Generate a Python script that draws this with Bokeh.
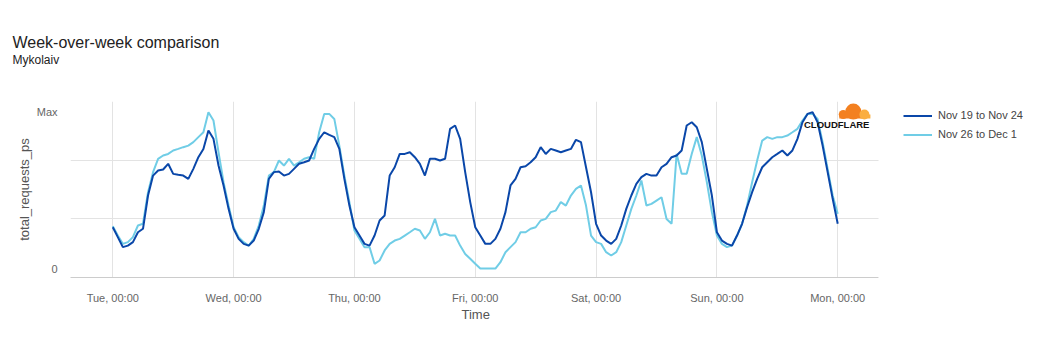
from bokeh.plotting import figure
from bokeh.models import (Range1d, FixedTicker, Legend, LegendItem, Label,
                          Title, BoxAnnotation)
from bokeh.embed import file_html
from bokeh.resources import INLINE

# hours since Tue 00:00
hours = list(range(145))

# Nov 19 to Nov 24 (relative to Max = 100)
week1 = [
    26.3, 20.0, 13.6, 14.6, 16.8, 23.1, 25.3, 46.5, 59.2, 62.4, 63.1, 66.7, 60.3, 59.7, 59.2, 57.1, 63.5, 70.9, 76.2, 87.9, 82.6, 65.6, 52.9, 38.0,
    25.3, 18.9, 15.7, 14.6, 17.8, 25.3, 35.9, 57.1, 61.4, 61.8, 59.2, 60.3, 63.5, 66.7, 67.7, 68.8, 76.2, 82.6, 86.8, 85.1, 83.7, 76.2, 57.1, 40.1,
    26.3, 21.0, 15.7, 14.6, 21.0, 30.6, 33.8, 59.2, 64.5, 73.0, 73.0, 74.1, 70.9, 66.7, 59.2, 69.9, 69.9, 68.8, 69.9, 89.0, 91.1, 82.6, 61.4, 42.3,
    26.3, 21.0, 15.7, 15.7, 18.9, 25.3, 35.9, 52.9, 57.1, 64.5, 65.2, 67.7, 70.9, 77.3, 73.0, 76.2, 75.2, 74.1, 75.2, 76.2, 82.0, 80.5, 64.5, 48.6,
    28.5, 21.0, 17.8, 15.7, 18.9, 27.4, 38.0, 46.5, 53.9, 58.2, 60.3, 59.2, 59.2, 64.5, 66.7, 70.9, 72.0, 75.2, 91.1, 93.2, 90.0, 80.5, 63.5, 46.5,
    23.1, 17.8, 15.7, 14.6, 21.0, 28.5, 39.1, 48.6, 57.1, 64.5, 67.7, 70.9, 73.0, 75.2, 72.0, 75.2, 82.6, 93.2, 98.5, 99.6, 93.2, 78.3, 61.4, 44.4,
    28.5,
]

# Nov 26 to Dec 1
week2 = [
    27.0, 21.0, 15.7, 16.8, 20.0, 27.4, 28.5, 48.6, 61.4, 69.9, 72.0, 73.0, 75.2, 76.2, 77.3, 78.3, 80.5, 83.7, 86.8, 99.6, 94.3, 74.1, 55.0, 40.1,
    26.3, 20.0, 16.8, 14.6, 18.9, 27.4, 40.1, 59.2, 61.4, 68.8, 65.6, 69.9, 65.6, 67.7, 69.9, 70.9, 69.9, 86.8, 98.5, 98.5, 95.3, 78.3, 59.2, 42.3,
    24.2, 18.9, 13.6, 13.6, 3.0, 5.1, 11.5, 15.7, 17.8, 18.9, 21.0, 23.1, 25.3, 24.2, 18.9, 23.1, 31.6, 21.0, 22.1, 21.0, 21.0, 14.6, 9.3, 6.2,
    3.0, 0.0, 0.0, 0.0, 0.0, 4.0, 10.4, 13.6, 16.8, 23.1, 23.1, 25.3, 26.3, 30.6, 31.6, 35.9, 36.9, 42.3, 40.1, 46.5, 50.7, 52.9, 40.1, 21.0,
    16.8, 15.7, 10.4, 8.3, 10.4, 16.8, 27.4, 38.0, 46.5, 56.1, 40.1, 41.2, 43.3, 45.4, 31.6, 28.5, 73.0, 60.3, 60.3, 73.0, 83.7, 72.0, 55.0, 35.9,
    21.0, 15.7, 13.6, 14.6, 21.0, 28.5, 40.1, 55.0, 68.8, 81.5, 83.7, 82.6, 83.7, 83.7, 84.7, 86.8, 89.0, 94.3, 98.5, 98.5, 95.3, 80.5, 63.5, 46.5,
    34.8,
]

series_names = ["Nov 19 to Nov 24", "Nov 26 to Dec 1"]
series_colors = ["#0a47a9", "#70cde6"]

x_ticks = [0, 24, 48, 72, 96, 120, 144]
x_tick_labels = ["Tue, 00:00", "Wed, 00:00", "Thu, 00:00", "Fri, 00:00",
                 "Sat, 00:00", "Sun, 00:00", "Mon, 00:00"]
y_ticks = [0, 100]
y_tick_labels = ["0", "Max"]
y_grid = [31.6, 69.0, 106.4]

title_text = "Week-over-week comparison"
subtitle_text = "Mykolaiv"
x_label = "Time"
y_label = "total_requests_ps"

FONT = "Liberation Sans"
W, H = 1024, 344
X0, X1 = -8.4, 152.1            # visible time span of the plot area (hours)
PX_PER_H = 808 / (X1 - X0)      # plot area is 808 px wide
X_END = X1 + (W - 878) / PX_PER_H   # frame extends under the legend

p = figure(width=W, height=H, output_backend="svg", toolbar_location=None,
           x_range=Range1d(X0, X_END), y_range=Range1d(-5.73, 106.4),
           min_border_left=70, min_border_right=0,
           min_border_top=101, min_border_bottom=H - 277)
p.outline_line_color = None
p.background_fill_color = "white"
p.border_fill_color = "white"

# titles: blank spacer next to the frame, then subtitle, main title outermost
p.title.text = title_text
p.title.align = "left"
p.title.offset = -58
p.title.standoff = 1
p.title.text_font = FONT
p.title.text_font_size = "16px"
p.title.text_font_style = "normal"
p.title.text_color = "#222222"
p.add_layout(Title(text=" ", align="left", offset=-58, standoff=15,
                   text_font=FONT, text_font_size="12px",
                   text_font_style="normal", text_color="#ffffff"), "above")
p.add_layout(Title(text=subtitle_text, align="left", offset=-58, standoff=3,
                   vertical_align="top",
                   text_font=FONT, text_font_size="12px",
                   text_font_style="normal", text_color="#222222"), "above")

# x axis
p.xaxis.bounds = (X0, X1)
p.xaxis.ticker = FixedTicker(ticks=x_ticks)
p.xaxis.major_label_overrides = dict(zip(x_ticks, x_tick_labels))
p.xaxis.axis_line_color = "#cccccc"
p.xaxis.major_tick_line_color = None
p.xaxis.minor_tick_line_color = None
p.xaxis.major_tick_out = 0
p.xaxis.major_label_standoff = 14
p.xaxis.major_label_text_font = FONT
p.xaxis.major_label_text_font_size = "11px"
p.xaxis.major_label_text_color = "#666666"
p.xgrid.ticker = FixedTicker(ticks=x_ticks)
p.xgrid.grid_line_color = "#e3e3e3"
# x-axis title centred under the plot area (not under the legend strip)
p.add_layout(Title(text=x_label, align="left", offset=391, standoff=0,
                   vertical_align="top",
                   text_font=FONT, text_font_size="13px",
                   text_font_style="normal", text_color="#555555"), "below")

# y axis
p.yaxis.ticker = FixedTicker(ticks=y_ticks)
p.yaxis.major_label_overrides = dict(zip(y_ticks, y_tick_labels))
p.yaxis.axis_line_color = None
p.yaxis.major_tick_line_color = None
p.yaxis.minor_tick_line_color = None
p.yaxis.major_tick_out = 0
p.yaxis.major_label_standoff = 13
p.yaxis.major_label_text_font = FONT
p.yaxis.major_label_text_font_size = "11px"
p.yaxis.major_label_text_color = "#666666"
p.yaxis.axis_label = y_label
p.yaxis.axis_label_text_font = FONT
p.yaxis.axis_label_text_font_size = "13px"
p.yaxis.axis_label_text_font_style = "normal"
p.yaxis.axis_label_text_color = "#555555"
p.yaxis.axis_label_standoff = 2
p.ygrid.ticker = FixedTicker(ticks=y_grid)
p.ygrid.grid_line_color = "#e3e3e3"

r2 = p.line(hours, week2, line_color=series_colors[1], line_width=2)
r1 = p.line(hours, week1, line_color=series_colors[0], line_width=2)

# blank strip right of the plot area (legend area)
p.add_layout(BoxAnnotation(left=X1, fill_color="white", fill_alpha=1.0,
                           line_color=None))

legend = Legend(items=[LegendItem(label=series_names[0], renderers=[r1]),
                       LegendItem(label=series_names[1], renderers=[r2])],
                location=(833, 133.5), border_line_color=None,
                background_fill_alpha=0, padding=0, margin=0, spacing=0,
                glyph_width=29, glyph_height=19, label_height=19,
                label_standoff=6, label_text_font=FONT,
                label_text_font_size="11px", label_text_color="#444444")
p.add_layout(legend)

# Cloudflare logo (decoration)
p.scatter([147.1, 145.1], [100.0, 98.1], size=[16, 9], marker="circle",
          fill_color="#f38020", line_color=None)
p.rect([146.6], [96.8], width=23, height=4, width_units="screen",
       height_units="screen", fill_color="#f38020", line_color=None)
p.scatter([149.3], [98.1], size=10, marker="circle", fill_color="#faae40",
          line_color=None)
p.rect([149.5], [96.8], width=10, height=4, width_units="screen",
       height_units="screen", fill_color="#faae40", line_color=None)
p.add_layout(Label(x=143.8, y=91.7, text="CLOUDFLARE", text_align="center",
                   text_baseline="middle", text_font=FONT,
                   text_font_size="9.5px", text_font_style="bold",
                   text_color="#111111"))

open("out.html", "w").write(file_html(p, INLINE))
